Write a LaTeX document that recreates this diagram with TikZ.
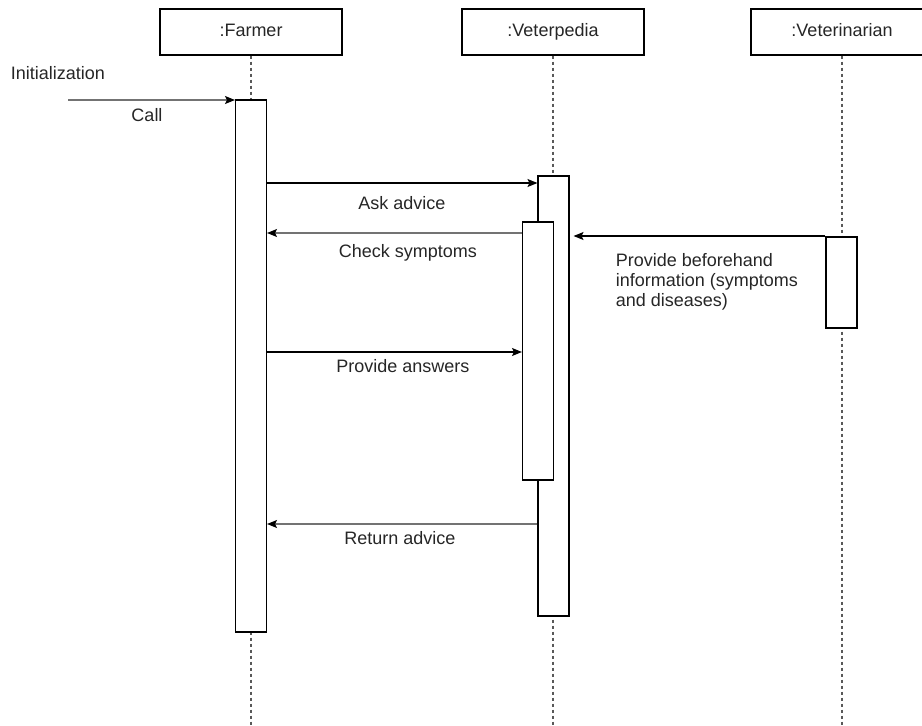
\documentclass[tikz,border=0pt]{standalone}
\usepackage{fontspec}
\setmainfont{Liberation Sans}
\usetikzlibrary{arrows.meta}

\begin{document}
\begin{tikzpicture}[>={Stealth[length=10pt, width=8pt, inset=2pt]}, x=1pt, y=-1pt, line width=1.1pt,
    every node/.style={font=\fontsize{18}{20}\selectfont, text=black!85},
    obj/.style={draw, minimum width=182pt, minimum height=46pt, text height=13pt, text depth=4pt},
    act/.style={draw, fill=white, minimum width=31pt},
    life/.style={draw=black!65, dash pattern=on 3pt off 3pt},
    ret/.style={-{Stealth[length=10pt, width=8pt, inset=2pt, black]}, draw=black!55}]
    \useasboundingbox (0,0) rectangle (922,726);

    % objects
    \node[obj] (farmer) at (251,32) {:Farmer};
    \node[obj] (vetpedia) at (553,32) {:Veterpedia};
    \node[obj] (vet) at (842,32) {:Veterinarian};

    % lifelines
    \coordinate (farmerEnd) at (251,726);
    \coordinate (vetpediaEnd) at (553,726);
    \coordinate (vetEnd) at (842,726);
    \draw[life] (farmer) -- (farmerEnd);
    \draw[life] (vetpedia) -- (vetpediaEnd);
    \draw[life] (vet) -- (vetEnd);

    % activations
    \node[act, minimum height=532pt] (farmerAct) at (251,366) {};
    \node[act, minimum height=440pt] (vpAct) at (553.5,396) {};
    \node[act, minimum height=258pt] (vpInner) at (538,351) {};
    \node[act, minimum height=91pt] (vetAct) at (841.5,282.5) {};

    % messages
    \node (init) at (58,73) {Initialization};
    \coordinate (start) at (68,100);
    \draw[ret] (start) -- (farmerAct.west |- start);
    \node (call) at (147,115) {Call};

    \draw[->] (farmerAct.east |- 0,183) -- (vpAct.west |- 0,183);
    \node (ask) at (402,203) {Ask advice};

    \draw[ret] (vpInner.west |- 0,233) -- (farmerAct.east |- 0,233);
    \node (check) at (408,253) {Check symptoms};

    \draw[->] (vetAct.west |- 0,236) -- ([xshift=4pt]vpAct.east |- 0,236);
    \node[anchor=west, align=left] (info) at (612,282)
        {Provide beforehand\\information (symptoms\\and diseases)};

    \draw[->] (farmerAct.east |- 0,352) -- (vpInner.west |- 0,352);
    \node (answers) at (403,366) {Provide answers};

    \draw[ret] (vpAct.west |- 0,524) -- (farmerAct.east |- 0,524);
    \node (return) at (400,538) {Return advice};
\end{tikzpicture}
\end{document}
